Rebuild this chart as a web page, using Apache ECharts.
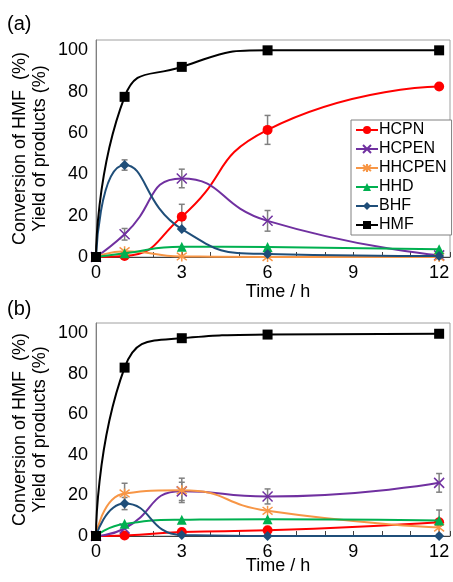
<!DOCTYPE html>
<html>
<head>
<meta charset="utf-8">
<script src="https://cdn.jsdelivr.net/npm/echarts@6/dist/echarts.min.js"></script>
<style>
  html, body { margin: 0; padding: 0; background: #fff; }
  #chart { width: 453px; height: 582px; }
</style>
</head>
<body>
<div id="chart"></div>
<script>
// Sampling times (h)
const times = [0, 1, 3, 6, 12];
const seriesNames = ['HCPN', 'HCPEN', 'HHCPEN', 'HHD', 'BHF', 'HMF'];
const xTickLabels = [0, 3, 6, 9, 12];
const yTickLabels = [0, 20, 40, 60, 80, 100];

// Panel (a): yields / conversion (%)
const aHCPN   = [0, 0.5, 19.5, 61.5, 82.5];
const aHCPEN  = [0, 11, 38, 17.5, 0.8];
const aHHCPEN = [0, 2.8, 0.3, 0, 0];
const aHHD    = [0, 1.8, 5, 4.8, 3.8];
const aBHF    = [0, 44.5, 13.5, 1.5, 0.5];
const aHMF    = [0, 77.5, 92, 100, 100];
// Panel (a): error bar half-widths
const aErrHCPN  = [0, 0, 6, 7, 0];
const aErrHCPEN = [0, 2.8, 4.5, 5, 0];
const aErrBHF   = [0, 2.5, 0, 0, 0];

// Panel (b): yields / conversion (%)
const bHCPN   = [0, 0.3, 2, 2.8, 6.8];
const bHCPEN  = [0, 3.7, 22, 19.5, 26.2];
const bHHCPEN = [0, 21, 22.5, 12.4, 4.2];
const bHHD    = [0, 6, 8, 8.3, 7.6];
const bBHF    = [0, 16, 0.5, 0, 0];
const bHMF    = [0, 83, 97.5, 99.3, 99.7];
// Panel (b): error bar half-widths
const bErrHCPN   = [0, 0, 0, 0, 6];
const bErrHCPEN  = [0, 0, 4.5, 3.7, 4.6];
const bErrHHCPEN = [0, 5, 6, 0, 0];
const bErrBHF    = [0, 3, 0, 0, 0];

const FONT = '"Liberation Sans", Arial, sans-serif';
const colors = {
  HCPN: '#ff0000', HCPEN: '#7030a0', HHCPEN: '#f79646',
  HHD: '#00b050', BHF: '#1f4e79', HMF: '#000000'
};
const crossPath = 'path://M0,0L10,10M10,0L0,10';
const starPath = 'path://M0,0L10,10M10,0L0,10M5,-1.5L5,11.5';
const symbols = {
  HCPN: 'circle', HCPEN: crossPath, HHCPEN: starPath,
  HHD: 'triangle', BHF: 'diamond', HMF: 'rect'
};
const symbolSizes = { HCPN: 10, HCPEN: 10, HHCPEN: 10, HHD: 10, BHF: 10, HMF: 10 };

function pairs(vals) { return times.map((t, i) => [t, vals[i]]); }

function lineSeries(name, vals, idx) {
  const stroked = name === 'HCPEN' || name === 'HHCPEN';
  return {
    type: 'line', name, xAxisIndex: idx, yAxisIndex: idx,
    data: pairs(vals), smooth: 0.55,
    symbol: symbols[name], symbolSize: symbolSizes[name], showSymbol: true,
    lineStyle: { color: colors[name], width: 2 },
    itemStyle: stroked
      ? { color: 'rgba(0,0,0,0)', borderColor: colors[name], borderWidth: 1.5 }
      : { color: colors[name], borderWidth: 0 },
    z: 3 + seriesNames.indexOf(name) * 0.1
  };
}

function errSeries(vals, errs, idx) {
  const data = [];
  times.forEach((t, i) => { if (errs[i] > 0) data.push([t, vals[i], errs[i]]); });
  return {
    type: 'custom', xAxisIndex: idx, yAxisIndex: idx, z: 2,
    data, silent: true,
    renderItem(params, api) {
      const x = api.value(0), y = api.value(1), e = api.value(2);
      const lo = api.coord([x, y - e]);
      const hi = api.coord([x, y + e]);
      const cap = 3;
      const style = { stroke: '#808080', lineWidth: 1.5 };
      return {
        type: 'group',
        children: [
          { type: 'line', shape: { x1: lo[0], y1: lo[1], x2: hi[0], y2: hi[1] }, style },
          { type: 'line', shape: { x1: lo[0] - cap, y1: lo[1], x2: lo[0] + cap, y2: lo[1] }, style },
          { type: 'line', shape: { x1: hi[0] - cap, y1: hi[1], x2: hi[0] + cap, y2: hi[1] }, style }
        ]
      };
    }
  };
}

function xAxis(idx, nameGap) {
  return {
    type: 'value', gridIndex: idx, min: 0, max: 12.38, interval: 1,
    axisLine: { show: true, lineStyle: { color: '#404040', width: 1 } },
    axisTick: { show: true, inside: true, length: 5, lineStyle: { color: '#404040' } },
    axisLabel: {
      fontSize: 18, color: '#000', fontFamily: FONT, margin: 7,
      formatter: v => (xTickLabels.indexOf(v) >= 0 ? String(v) : '')
    },
    splitLine: { show: false },
    name: 'Time / h', nameLocation: 'middle', nameGap, nameMoveOverlap: false,
    nameTextStyle: { fontSize: 18, color: '#000', fontFamily: FONT, padding: [0, 0, 0, 10] }
  };
}

function yAxis(idx) {
  return {
    type: 'value', gridIndex: idx, min: 0, max: 105, interval: 20,
    axisLine: { show: true, lineStyle: { color: '#808080', width: 1 } },
    axisTick: { show: false },
    axisLabel: {
      fontSize: 18, color: '#000', fontFamily: FONT, margin: 8,
      formatter: v => (yTickLabels.indexOf(v) >= 0 ? String(v) : '')
    },
    splitLine: { show: false },
    name: 'Conversion of HMF  (%)\nYield of products (%)',
    nameLocation: 'middle', nameRotate: 90, nameGap: 46, nameMoveOverlap: false,
    nameTextStyle: { fontSize: 18, color: '#000', fontFamily: FONT, lineHeight: 20 }
  };
}

const series = [];
// panel (a)
series.push(errSeries(aHCPN, aErrHCPN, 0));
series.push(errSeries(aHCPEN, aErrHCPEN, 0));
series.push(errSeries(aBHF, aErrBHF, 0));
[aHCPN, aHCPEN, aHHCPEN, aHHD, aBHF, aHMF].forEach((v, i) => series.push(lineSeries(seriesNames[i], v, 0)));
// panel (b)
series.push(errSeries(bHCPN, bErrHCPN, 1));
series.push(errSeries(bHCPEN, bErrHCPEN, 1));
series.push(errSeries(bHHCPEN, bErrHHCPEN, 1));
series.push(errSeries(bBHF, bErrBHF, 1));
[bHCPN, bHCPEN, bHHCPEN, bHHD, bBHF, bHMF].forEach((v, i) => series.push(lineSeries(seriesNames[i], v, 1)));

const chart = echarts.init(document.getElementById('chart'), null, { renderer: 'canvas' });
chart.setOption({
  animation: false,
  backgroundColor: '#fff',
  textStyle: { fontFamily: FONT },
  grid: [
    { left: 96, top: 40, right: 2, height: 217, show: true, borderColor: '#a0a0a0', borderWidth: 1 },
    { left: 96, top: 323, right: 2, height: 213, show: true, borderColor: '#a0a0a0', borderWidth: 1 }
  ],
  xAxis: [xAxis(0, 26), xAxis(1, 21)],
  yAxis: [yAxis(0), yAxis(1)],
  legend: {
    data: seriesNames,
    orient: 'vertical', left: 351, top: 120,
    padding: [2, 5, 2, 4], itemGap: 3, itemWidth: 22, itemHeight: 10,
    backgroundColor: '#fff', borderColor: '#808080', borderWidth: 1, borderRadius: 0,
    textStyle: { fontSize: 16, color: '#000', fontFamily: FONT, padding: [0, 0, 0, -4] },
    selectedMode: false
  },
  graphic: [
    { type: 'text', left: 7, top: 14, style: { text: '(a)', fontSize: 20, fontFamily: FONT, fill: '#000' } },
    { type: 'text', left: 7, top: 299, style: { text: '(b)', fontSize: 20, fontFamily: FONT, fill: '#000' } }
  ],
  series
});
</script>
</body>
</html>
